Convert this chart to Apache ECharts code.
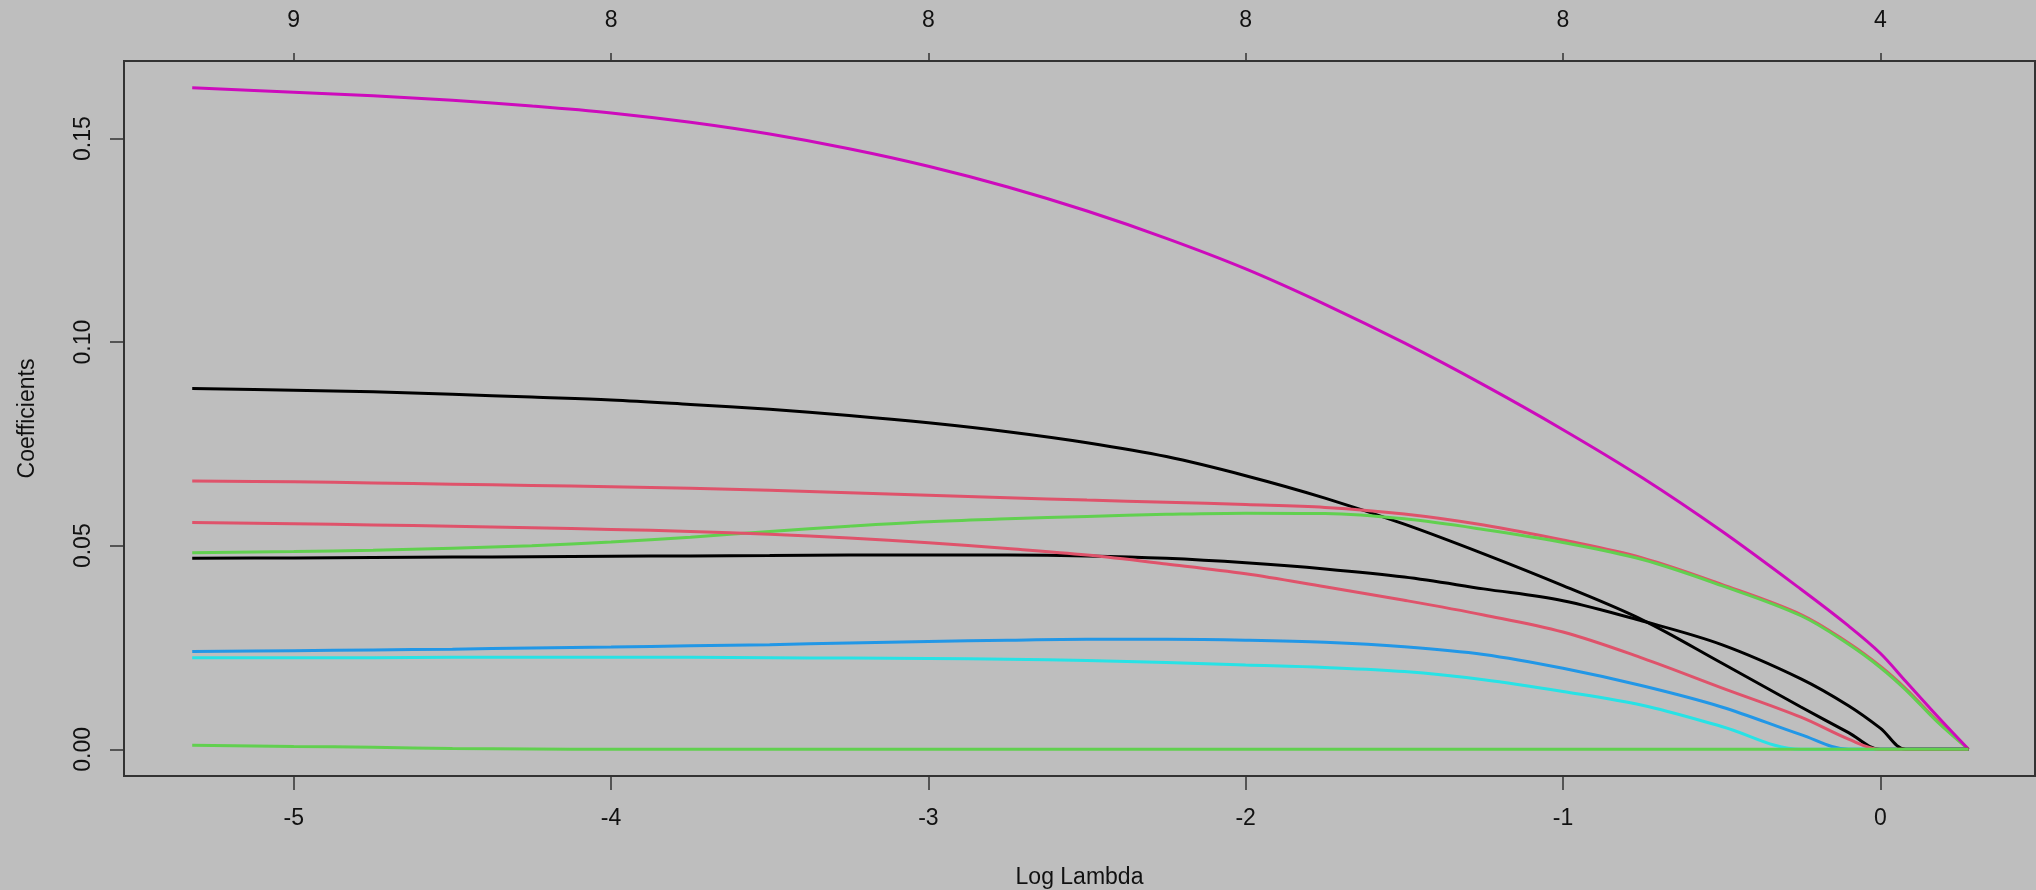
<!DOCTYPE html>
<html><head><meta charset="utf-8">
<script src="https://cdn.jsdelivr.net/npm/echarts@6/dist/echarts.min.js"></script>
<style>html,body{margin:0;padding:0;background:#bebebe;}#c{width:2036px;height:890px;}</style>
</head><body><div id="c"></div>
<script>
// Log lambda sample positions
const logLambda = [-5.32, -5.0, -4.75, -4.5, -4.25, -4.0, -3.75, -3.5, -3.25, -3.0, -2.75, -2.5, -2.25, -2.0, -1.75, -1.5, -1.25, -1.0, -0.75, -0.5, -0.25, -0.1, 0.0, 0.08, 0.18, 0.278];
const xTicks = [-5, -4, -3, -2, -1, 0];
const dfLabels = ['9', '8', '8', '8', '8', '4'];
const yTicks = [0, 0.05, 0.10, 0.15];
const yTickLabels = ['0.00', '0.05', '0.10', '0.15'];

// coefficient paths
const coefBlackA = [0.0886, 0.0882, 0.0878, 0.0872, 0.0865, 0.0858, 0.0847, 0.0835, 0.0820, 0.0802, 0.0780, 0.0753, 0.0719, 0.0672, 0.0617, 0.0553, 0.0480, 0.0402, 0.0318, 0.0212, 0.0104, 0.0041, 0, 0, 0, 0];
const coefRedA   = [0.0659, 0.0657, 0.0654, 0.0651, 0.0648, 0.0645, 0.0641, 0.0636, 0.0630, 0.0624, 0.0618, 0.0612, 0.0607, 0.0601, 0.0594, 0.0578, 0.0551, 0.0514, 0.0470, 0.0405, 0.0331, 0.0261, 0.0204, 0.0149, 0.0070, 0];
const coefGreenA = [0.0483, 0.0486, 0.0489, 0.0494, 0.0500, 0.0509, 0.0521, 0.0535, 0.0548, 0.0559, 0.0566, 0.0572, 0.0577, 0.0580, 0.0579, 0.0566, 0.0540, 0.0508, 0.0466, 0.0402, 0.0328, 0.0258, 0.0201, 0.0146, 0.0067, 0];
const coefBlue   = [0.0240, 0.0242, 0.0244, 0.0246, 0.0249, 0.0251, 0.0254, 0.0257, 0.0261, 0.0265, 0.0268, 0.0270, 0.0270, 0.0268, 0.0263, 0.0252, 0.0233, 0.0199, 0.0156, 0.0104, 0.0036, 0, 0, 0, 0, 0];
const coefCyan   = [0.0225, 0.0225, 0.0225, 0.0226, 0.0226, 0.0226, 0.0226, 0.0225, 0.0224, 0.0223, 0.0221, 0.0218, 0.0213, 0.0207, 0.0201, 0.0191, 0.0171, 0.0142, 0.0108, 0.0056, 0, 0, 0, 0, 0, 0];
const coefMagenta= [0.1625, 0.1614, 0.1605, 0.1594, 0.1580, 0.1563, 0.1540, 0.1511, 0.1475, 0.1432, 0.1381, 0.1322, 0.1255, 0.1180, 0.1093, 0.0998, 0.0895, 0.0785, 0.0667, 0.0536, 0.0393, 0.0303, 0.0236, 0.0167, 0.0081, 0];
const coefBlackB = [0.0469, 0.0470, 0.0471, 0.0472, 0.0473, 0.0474, 0.0475, 0.0476, 0.0477, 0.0477, 0.0477, 0.0475, 0.0469, 0.0458, 0.0443, 0.0423, 0.0394, 0.0365, 0.0315, 0.0257, 0.0173, 0.0107, 0.0052, 0, 0, 0];
const coefRedB   = [0.0557, 0.0554, 0.0551, 0.0548, 0.0544, 0.0540, 0.0535, 0.0528, 0.0519, 0.0507, 0.0493, 0.0477, 0.0455, 0.0431, 0.0399, 0.0366, 0.0330, 0.0288, 0.0224, 0.0151, 0.0079, 0.0025, 0, 0, 0, 0];
const coefGreenB = [0.0010, 0.0007, 0.0005, 0.0002, 0.0001, 0, 0, 0, 0, 0, 0, 0, 0, 0, 0, 0, 0, 0, 0, 0, 0, 0, 0, 0, 0, 0];

const pathList = [coefBlackA, coefRedA, coefGreenA, coefBlue, coefCyan, coefMagenta, coefBlackB, coefRedB, coefGreenB];
const pathColors = ['#000000', '#DF536B', '#61D04F', '#2297E6', '#28E2E5', '#CD0BBC', '#000000', '#DF536B', '#61D04F'];

const FONT = 'Liberation Sans, Arial, sans-serif';
const TXT = '#111111';
const AX = '#333333';
const xMin = -5.535, xMax = 0.4876, yMin = -0.00656, yMax = 0.16905;

const chart = echarts.init(document.getElementById('c'), null, {renderer: 'canvas'});
chart.setOption({
  backgroundColor: '#bebebe',
  animation: false,
  grid: {left: 124, right: 1, top: 61, bottom: 114, show: true, borderColor: AX, borderWidth: 2,
    backgroundColor: 'transparent', containLabel: false, outerBoundsMode: 'none'},
  xAxis: [
    {
      type: 'value', position: 'bottom', min: xMin, max: xMax,
      axisLine: {show: false, onZero: false}, splitLine: {show: false},
      axisTick: {show: true, customValues: xTicks, length: 14, lineStyle: {color: AX, width: 1.5}},
      axisLabel: {customValues: xTicks, margin: 31, fontSize: 23, color: TXT, fontFamily: FONT,
        formatter: v => String(Math.round(v))},
      name: 'Log Lambda', nameLocation: 'middle', nameGap: 90,
      nameTextStyle: {fontSize: 23, color: TXT, fontFamily: FONT}
    },
    {
      type: 'value', position: 'top', min: xMin, max: xMax,
      axisLine: {show: false, onZero: false}, splitLine: {show: false},
      axisTick: {show: true, customValues: xTicks, length: 8, lineStyle: {color: AX, width: 1.5}},
      axisLabel: {customValues: xTicks, margin: 29, fontSize: 23, color: TXT, fontFamily: FONT,
        formatter: v => dfLabels[xTicks.indexOf(Math.round(v))]}
    }
  ],
  yAxis: {
    type: 'value', min: yMin, max: yMax, position: 'left',
    axisLine: {show: false, onZero: false}, splitLine: {show: false},
    axisTick: {show: true, customValues: yTicks, length: 14, lineStyle: {color: AX, width: 1.5}},
    axisLabel: {customValues: yTicks, rotate: 90, margin: 29, fontSize: 23, color: TXT, fontFamily: FONT,
      formatter: v => yTickLabels[yTicks.findIndex(t => Math.abs(t - v) < 1e-9)]},
    name: 'Coefficients', nameLocation: 'middle', nameGap: 85,
    nameTextStyle: {fontSize: 23, color: TXT, fontFamily: FONT}
  },
  series: pathList.map((vals, k) => ({
    type: 'line',
    xAxisIndex: 0, yAxisIndex: 0,
    data: logLambda.map((x, i) => [x, vals[i]]),
    showSymbol: false, symbol: 'none',
    smooth: 0.35,
    lineStyle: {width: 3, color: pathColors[k]},
    itemStyle: {color: pathColors[k]},
    silent: true
  }))
});
</script>
</body></html>
